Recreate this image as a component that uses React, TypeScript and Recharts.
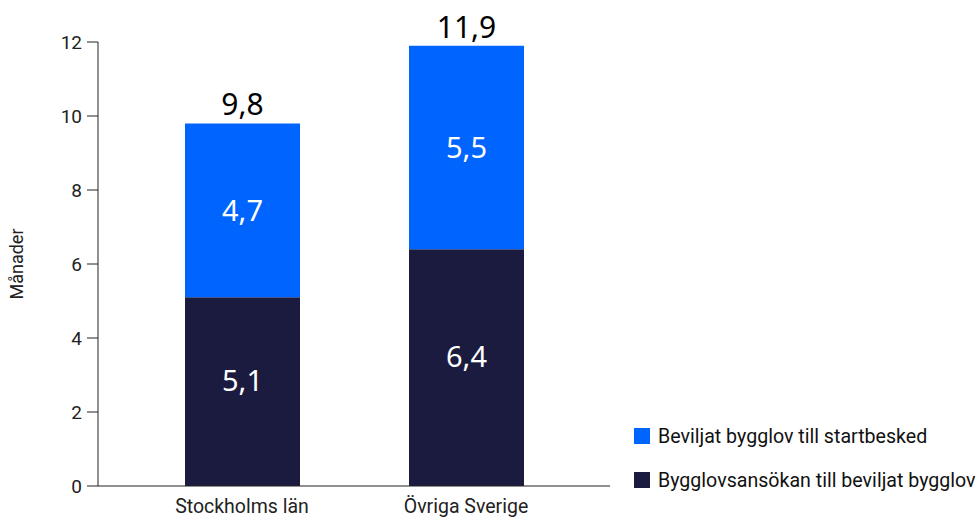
import { BarChart, Bar, XAxis, YAxis, LabelList } from 'recharts'

const categories = ['Stockholms län', 'Övriga Sverige']
const ansokanTillBeviljat = [5.1, 6.4]
const beviljatTillStart = [4.7, 5.5]
const totals = [9.8, 11.9]
const yTicks = [0, 2, 4, 6, 8, 10, 12]

const DARK = '#1b1b3f'
const BLUE = '#0064ff'

const data = categories.map((name, i) => ({
  name,
  ansokan: ansokanTillBeviljat[i],
  beviljat: beviljatTillStart[i],
  total: totals[i],
}))

const fmt = (v: unknown) => String(v).replace('.', ',')

const legendItems = [
  { label: 'Beviljat bygglov till startbesked', color: BLUE },
  { label: 'Bygglovsansökan till beviljat bygglov', color: DARK },
]

// inner label for the dark segment sits a bit above the middle in the original
const DarkLabel = (props: any) => {
  const { x, y, width, height, value } = props
  return (
    <text
      x={x + width / 2}
      y={y + height / 2 - 12}
      fill="#fff"
      fontSize={29}
      fontFamily="Noto Sans"
      textAnchor="middle"
      dominantBaseline="central"
    >
      {fmt(value)}
    </text>
  )
}

export default function App() {
  return (
    <div style={{ position: 'relative', width: 980, height: 517, fontFamily: 'Roboto', overflow: 'hidden' }}>
      <style>{`body{margin:0}`}</style>
      <BarChart
        width={980}
        height={517}
        data={data}
        margin={{ top: 42, right: 370, bottom: 0, left: 0 }}
        barCategoryGap={0}
      >
        <XAxis
          dataKey="name"
          height={31}
          padding={{ left: 32, right: 32 }}
          tickLine={false}
          axisLine={{ stroke: '#222' }}
          tick={{ fill: '#222', fontSize: 19.5, fontFamily: 'Roboto' }}
          tickMargin={7}
        />
        <YAxis
          width={98}
          domain={[0, 12]}
          ticks={yTicks}
          tickSize={11}
          tickMargin={5}
          axisLine={{ stroke: '#222' }}
          tickLine={{ stroke: '#222' }}
          tick={{ fill: '#222', fontSize: 19, fontFamily: 'Roboto' }}
          label={{
            value: 'Månader',
            angle: -90,
            position: 'insideLeft',
            offset: 17,
            style: { fill: '#222', fontSize: 18, fontFamily: 'Roboto', textAnchor: 'middle' },
          }}
        />
        <Bar dataKey="ansokan" stackId="a" fill={DARK} barSize={115} isAnimationActive={false}>
          <LabelList dataKey="ansokan" content={DarkLabel} />
        </Bar>
        <Bar dataKey="beviljat" stackId="a" fill={BLUE} barSize={115} isAnimationActive={false}>
          <LabelList
            dataKey="beviljat"
            position="center"
            formatter={fmt}
            style={{ fill: '#fff', fontSize: 29, fontFamily: 'Noto Sans' }}
          />
          <LabelList
            dataKey="total"
            position="top"
            offset={8}
            formatter={fmt}
            style={{ fill: '#000', fontSize: 30, fontFamily: 'Noto Sans' }}
          />
        </Bar>
      </BarChart>
      <div style={{ position: 'absolute', left: 634, top: 425 }}>
        {legendItems.map((item) => (
          <div
            key={item.label}
            style={{ display: 'flex', alignItems: 'center', height: 22, marginBottom: 22, fontSize: 19.6, color: '#111' }}
          >
            <span style={{ width: 16, height: 16, background: item.color, marginRight: 8, display: 'inline-block' }} />
            <span style={{ whiteSpace: 'nowrap' }}>{item.label}</span>
          </div>
        ))}
      </div>
    </div>
  )
}
